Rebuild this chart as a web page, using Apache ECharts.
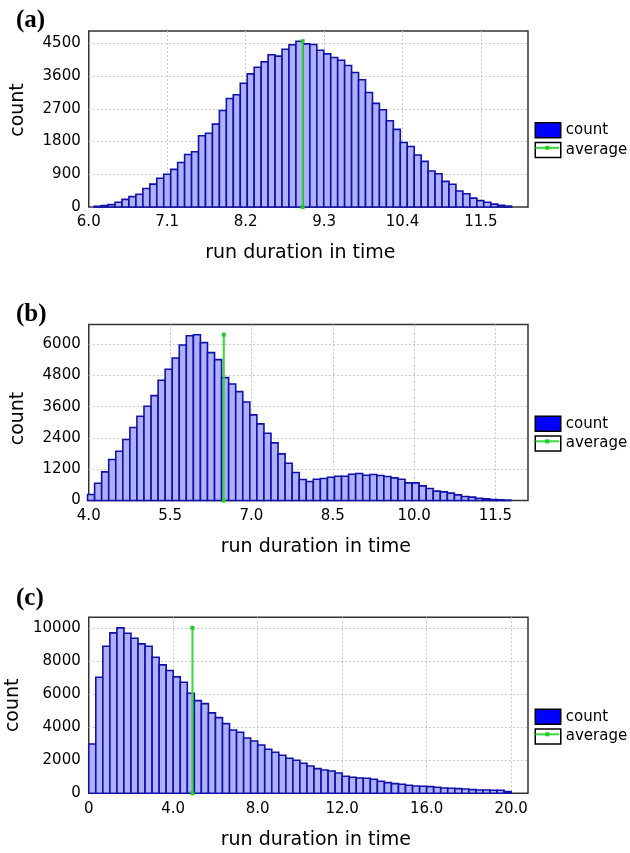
<!DOCTYPE html>
<html>
<head>
<meta charset="utf-8">
<script src="https://cdn.jsdelivr.net/npm/echarts@6/dist/echarts.min.js"></script>
<style>html,body{margin:0;padding:0;background:#fff;}#c{width:630px;height:853px;}</style>
</head>
<body>
<div id="c"></div>
<script>
// ---- data ----
var panelLabels = ['(a)', '(b)', '(c)'];
var seriesNames = ['count', 'average'];
var xAxisTitle = 'run duration in time';
var yAxisTitle = 'count';

// histogram (a)
var binStartA = 6.076, binWidthA = 0.09757;
var countsA = [20, 40, 65, 130, 210, 285, 350, 510, 630, 790, 900, 1035, 1225, 1445, 1520, 1960, 2030, 2280, 2655, 2985,
  3085, 3405, 3660, 3845, 3990, 4185, 4150, 4340, 4460, 4560, 4485, 4470, 4310, 4210, 4110, 4035, 3890, 3700, 3500, 3150,
  2850, 2675, 2370, 2135, 1775, 1665, 1430, 1255, 990, 915, 705, 625, 440, 365, 245, 175, 130, 80, 45, 25];
var averageA = [[9.0, 0], [9.0, 4560]];
var xRangeA = [6.0, 12.16], xIntervalA = 1.1;
var yRangeA = [0, 4840], yIntervalA = 900;

// histogram (b)
var binStartB = 3.978, binWidthB = 0.1301;
var countsB = [230, 664, 1098, 1571, 1890, 2337, 2797, 3231, 3614, 4023, 4610, 5031, 5466, 5964, 6321, 6359, 6053, 5670, 5402, 4712,
  4470, 4176, 3780, 3282, 2937, 2580, 2209, 1788, 1430, 1073, 805, 728, 817, 843, 894, 932, 932, 1009, 1034, 970,
  996, 958, 919, 868, 817, 677, 677, 562, 460, 358, 332, 281, 217, 153, 128, 89, 64, 38, 26, 13];
var averageB = [[6.49, 0], [6.49, 6359]];
var xRangeB = [4.0, 12.1], xIntervalB = 1.5;
var yRangeB = [0, 6750], yIntervalB = 1200;

// histogram (c)
var binStartC = 0, binWidthC = 1 / 3;
var countsC = [2990, 7030, 8910, 9716, 10020, 9697, 9394, 9050, 8910, 8242, 7778, 7434, 7050, 6727, 6060, 5616, 5434, 4869, 4585, 4222,
  3838, 3697, 3353, 3171, 2929, 2666, 2485, 2303, 2121, 2000, 1818, 1656, 1495, 1414, 1353, 1232, 1030, 970, 929, 909,
  848, 727, 646, 586, 545, 485, 444, 424, 404, 364, 323, 303, 283, 263, 222, 202, 202, 182, 182, 101];
var averageC = [[4.91, 0], [4.91, 10020]];
var xRangeC = [0, 20.8], xIntervalC = 4;
var yRangeC = [0, 10660], yIntervalC = 2000;

// ---- build ----
var panels = [
  {start: binStartA, w: binWidthA, counts: countsA, avg: averageA, xr: xRangeA, xi: xIntervalA, yr: yRangeA, yi: yIntervalA, top: 31, title: 8, lgTop: 122, xNamePad: [0, 16, 0, 0], yNamePad: [0, 0, 0, 18], zeroPlain: false},
  {start: binStartB, w: binWidthB, counts: countsB, avg: averageB, xr: xRangeB, xi: xIntervalB, yr: yRangeB, yi: yIntervalB, top: 324.5, title: 302, lgTop: 415.5, xNamePad: [0, 0, 0, 15], yNamePad: [0, 12, 0, 0], zeroPlain: false},
  {start: binStartC, w: binWidthC, counts: countsC, avg: averageC, xr: xRangeC, xi: xIntervalC, yr: yRangeC, yi: yIntervalC, top: 617.3, title: 586, lgTop: 708.5, xNamePad: [0, 0, 0, 15], yNamePad: [0, 0, 0, 0], zeroPlain: true}
];

var FONT = 'DejaVu Sans';
var PLOT_H = 176, LEFT = 88.75, RIGHT = 102;
var LG_LEFT = 534.5, LG_W = 25.5, LG_H = 15, LG_GAP = 3.3;
var GRID_COLOR = '#c8c8c8';
var grids = [], xAxes = [], yAxes = [], series = [], legends = [], titles = [], graphics = [];

panels.forEach(function (p, k) {
  grids.push({left: LEFT, right: RIGHT, top: p.top, height: PLOT_H, show: true, borderColor: '#333', borderWidth: 1.5,
    backgroundColor: 'transparent', containLabel: false, outerBoundsMode: 'none'});
  var zp = p.zeroPlain;
  xAxes.push({
    type: 'value', gridIndex: k, min: p.xr[0], max: p.xr[1], interval: p.xi,
    axisLine: {show: false}, axisTick: {show: false},
    axisLabel: {color: '#000', fontFamily: FONT, fontSize: 15, margin: 8, showMaxLabel: false,
      formatter: function (v) { return (zp && v === 0) ? '0' : v.toFixed(1); }},
    splitLine: {show: true, showMinLine: false, showMaxLine: false, lineStyle: {color: GRID_COLOR, width: 1, type: [2, 2]}},
    name: xAxisTitle, nameLocation: 'middle', nameGap: 37,
    nameTextStyle: {color: '#000', fontFamily: FONT, fontSize: 19, padding: p.xNamePad}
  });
  yAxes.push({
    type: 'value', gridIndex: k, min: p.yr[0], max: p.yr[1], interval: p.yi,
    axisLine: {show: false}, axisTick: {show: false},
    axisLabel: {color: '#000', fontFamily: FONT, fontSize: 15, margin: 8, showMaxLabel: false,
      formatter: function (v) { return String(v); }},
    splitLine: {show: true, showMinLine: false, showMaxLine: false, lineStyle: {color: GRID_COLOR, width: 1, type: [2, 2]}},
    name: yAxisTitle, nameLocation: 'middle', nameGap: 61,
    nameTextStyle: {color: '#000', fontFamily: FONT, fontSize: 19, padding: p.yNamePad}
  });
  var data = p.counts.map(function (c, i) {
    return [p.start + i * p.w, p.start + (i + 1) * p.w, c];
  });
  series.push({
    type: 'custom', name: seriesNames[0], xAxisIndex: k, yAxisIndex: k, z: 2,
    encode: {x: [0, 1], y: 2},
    itemStyle: {color: '#0000ff'},
    renderItem: function (params, api) {
      var p0 = api.coord([api.value(0), 0]);
      var p1 = api.coord([api.value(1), api.value(2)]);
      return {type: 'rect', shape: {x: p0[0], y: p1[1], width: p1[0] - p0[0], height: p0[1] - p1[1]},
        style: {fill: '#aeb0fa', stroke: '#1010aa', lineWidth: 1.6}};
    },
    data: data
  });
  series.push({
    type: 'line', name: seriesNames[1], xAxisIndex: k, yAxisIndex: k, z: 5,
    data: p.avg, symbol: 'rect', symbolSize: 4, showSymbol: true,
    lineStyle: {color: '#33dd33', width: 2}, itemStyle: {color: '#22cc22'},
    animation: false
  });
  legends.push({
    orient: 'vertical', left: LG_LEFT, top: p.lgTop, padding: 0, itemWidth: LG_W, itemHeight: LG_H, itemGap: LG_GAP,
    selectedMode: false,
    textStyle: {color: '#000', fontFamily: FONT, fontSize: 15},
    data: [
      {name: seriesNames[0], icon: 'rect', itemStyle: {color: '#0000ff', borderColor: '#000', borderWidth: 1.5}},
      {name: seriesNames[1], icon: 'rect', itemStyle: {color: '#ffffff', borderColor: '#000', borderWidth: 1.5}}
    ]
  });
  titles.push({text: panelLabels[k], left: 16, top: p.title, padding: 0,
    textStyle: {fontFamily: 'Liberation Serif', fontWeight: 'bold', fontSize: 25, color: '#000'}});
  // green line inside the "average" legend swatch
  var cy = p.lgTop + LG_H + LG_GAP + LG_H / 2;
  graphics.push({type: 'line', z: 100, shape: {x1: LG_LEFT + 1, y1: cy, x2: LG_LEFT + LG_W - 1, y2: cy}, style: {stroke: '#33dd33', lineWidth: 2}});
  graphics.push({type: 'rect', z: 101, shape: {x: LG_LEFT + LG_W / 2 - 2, y: cy - 2, width: 4, height: 4}, style: {fill: '#22cc22'}});
});

var chart = echarts.init(document.getElementById('c'), null, {renderer: 'canvas'});
chart.setOption({
  animation: false,
  backgroundColor: '#fff',
  title: titles,
  grid: grids,
  xAxis: xAxes,
  yAxis: yAxes,
  legend: legends,
  series: series,
  graphic: graphics
});
</script>
</body>
</html>
